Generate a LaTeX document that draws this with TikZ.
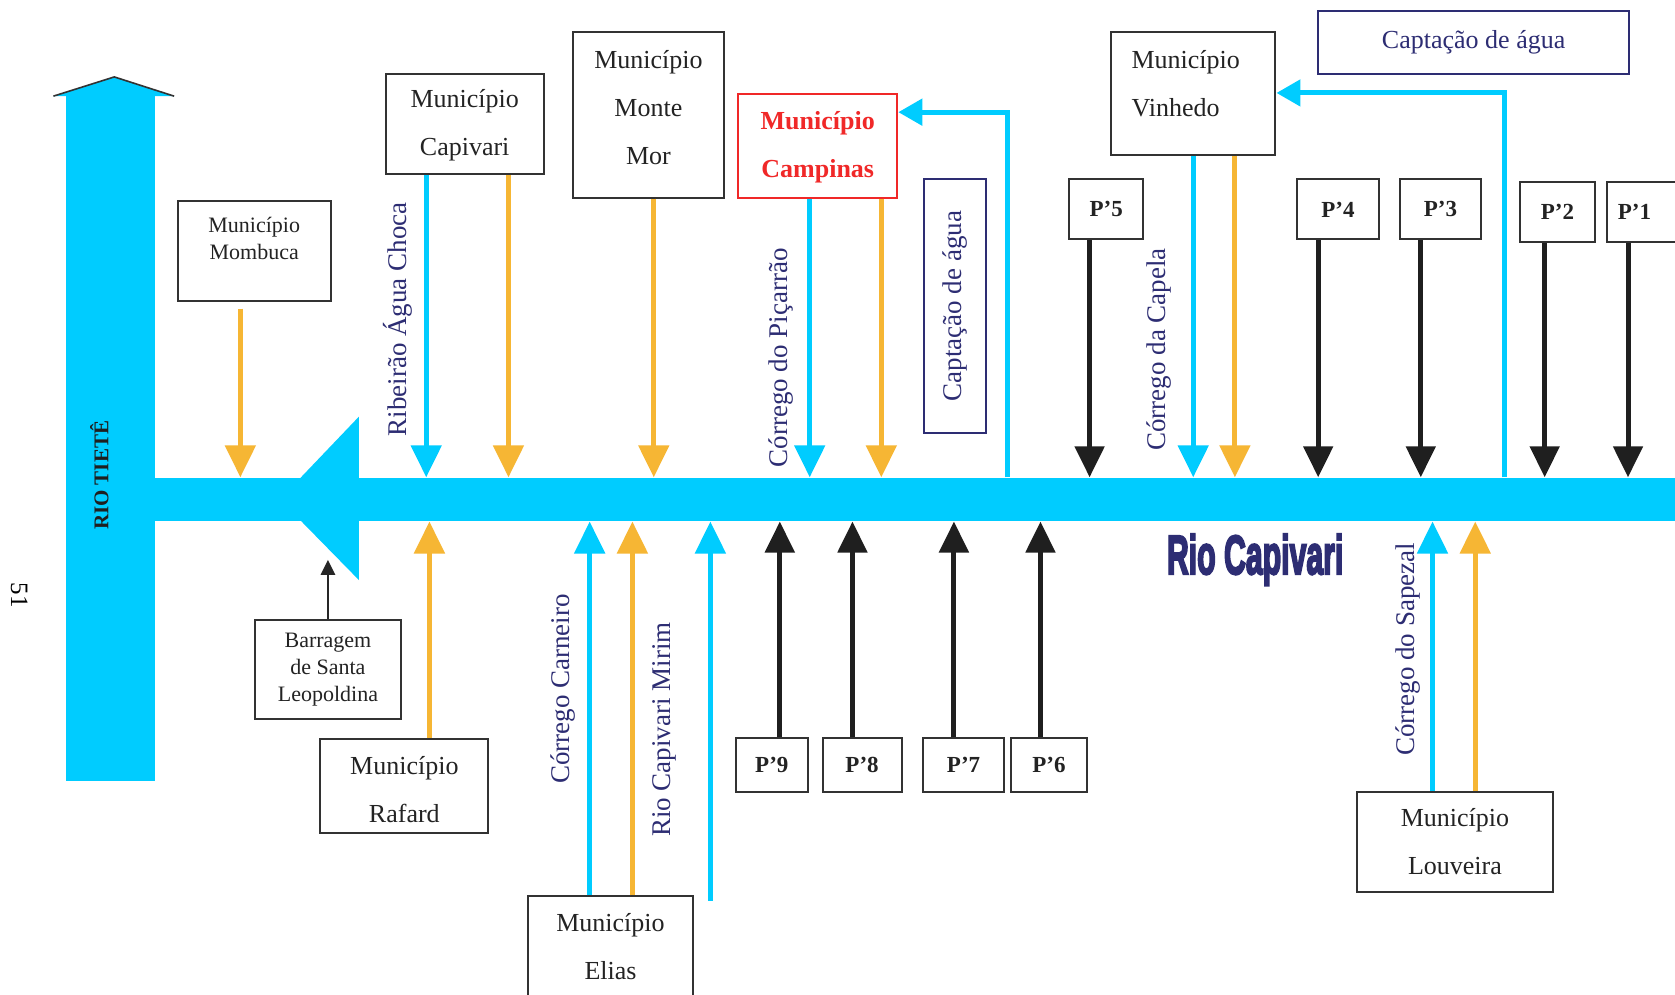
\documentclass[tikz,border=0pt]{standalone}
\usepackage{fontspec}
\setmainfont{Liberation Serif}
\newfontfamily\rcfont[BoldFeatures={FakeBold=4.5}]{Liberation Sans}
\usetikzlibrary{arrows.meta,fit}
\definecolor{riv}{RGB}{0,204,255}
\definecolor{ora}{RGB}{246,182,52}
\definecolor{navy}{RGB}{45,45,115}
\definecolor{redc}{RGB}{240,40,40}
\definecolor{boxc}{RGB}{50,50,50}
\definecolor{txtc}{RGB}{35,35,35}
\begin{document}
\begin{tikzpicture}[x=1.0682pt,y=-1.0682pt,
  box/.style={draw=boxc,line width=2pt,inner sep=0pt},
  nbox/.style={draw=navy,line width=2pt,inner sep=0pt},
  txt/.style={text=txtc,align=center,font=\fontsize{26}{48}\selectfont},
  stxt/.style={text=txtc,align=center,font=\fontsize{22}{27}\selectfont},
  ptxt/.style={text=txtc,font=\bfseries\fontsize{23}{26}\selectfont},
  lbl/.style={rotate=90,text=navy,font=\fontsize{27}{30}\selectfont},
  barr/.style={draw=riv,line width=5pt,-{Triangle[width=30pt,length=32pt]}},
  oarr/.style={draw=ora,line width=5pt,-{Triangle[width=30pt,length=32pt]}},
  karr/.style={draw=black!88,line width=5pt,-{Triangle[width=29pt,length=31pt]}},
  carr/.style={draw=riv,line width=5pt,-{Triangle[width=26pt,length=24pt]}}]
\useasboundingbox (0,0) rectangle (1568,931);
\fill[white] (0,0) rectangle (1568,931);

% Rio Tiete
\node[fill=riv,inner sep=0pt,fit={(62,90)(145,731)}] (tiete) {};
\fill[riv] (50,90) -- (107,72) -- (163,90) -- cycle;
\draw[black!80,line width=1.6pt,line join=round] (50,90) -- (107,72) -- (163,90);
\node[rotate=90,text=black!88,font=\bfseries\fontsize{21}{21}\selectfont] at (93,445) {RIO TIETÊ};
\node[rotate=-90,text=black,font=\fontsize{25}{25}\selectfont] at (18,557) {51};

% Rio Capivari band
\node[fill=riv,inner sep=0pt,fit={(145,447)(1580,488)}] (river) {};
\fill[riv] (336,390) -- (262,467.5) -- (336,543) -- cycle;
\node[text=navy,xscale=0.55,font=\rcfont\bfseries\fontsize{55}{55}\selectfont] at (1175,524) {Rio Capivari};

% top boxes
\node[box,fit={(167,188)(310,282)}] (momb) {};
\node[stxt] at (238,223) {Município\\Mombuca};
\node[box,fit={(361,69)(509,163)}] (capiv) {};
\node[txt] at (435,117) {Município\\Capivari};
\node[box,fit={(536,30)(678,185)}] (monte) {};
\node[txt] at (607,100.5) {Município\\Monte\\Mor};
\node[draw=redc,line width=2pt,inner sep=0pt,fit={(691,88)(840,185)}] (camp) {};
\node[txt,text=redc,font=\bfseries\fontsize{26}{48}\selectfont] at (765.5,137.5) {Município\\Campinas};
\node[nbox,fit={(865,168)(923,405)}] (capv) {};
\node[lbl] at (capv) {Captação de água};
\node[box,fit={(1040,30)(1194,145)}] (vinh) {};
\node[txt,align=left,anchor=west] at (1056,78) {Município\\Vinhedo};
\node[nbox,fit={(1234,10)(1525,69)}] (capt) {};
\node[text=navy,font=\fontsize{26}{30}\selectfont] at (capt) {Captação de água};

\node[box,fit={(1001,168)(1070,224)}] (p5) {};
\node[ptxt] at (p5) {P’5};
\node[box,fit={(1214,168)(1291,224)}] (p4) {};
\node[ptxt] at (p4) {P’4};
\node[box,fit={(1311,168)(1386,224)}] (p3) {};
\node[ptxt] at (p3) {P’3};
\node[box,fit={(1423,170)(1493,227)}] (p2) {};
\node[ptxt] at (p2) {P’2};
\node[box,fit={(1504,170)(1580,227)}] (p1) {};
\node[ptxt] at (1530,198.5) {P’1};

% bottom boxes
\node[box,fit={(239,580)(375,673)}] (barr) {};
\node[stxt] at (barr) {Barragem\\de Santa\\Leopoldina};
\node[box,fit={(300,692)(457,780)}] (rafa) {};
\node[txt] at (378.5,739.5) {Município\\Rafard};
\node[box,fit={(494,839)(649,945)}] (elias) {};
\node[txt] at (571.5,886.5) {Município\\Elias};
\node[box,fit={(689,691)(756,741)}] (p9) {};
\node[ptxt] at (p9) {P’9};
\node[box,fit={(770,691)(844,741)}] (p8) {};
\node[ptxt] at (p8) {P’8};
\node[box,fit={(864,691)(940,741)}] (p7) {};
\node[ptxt] at (p7) {P’7};
\node[box,fit={(946,691)(1018,741)}] (p6) {};
\node[ptxt] at (p6) {P’6};
\node[box,fit={(1270,741)(1454,835)}] (louv) {};
\node[txt] at (louv) {Município\\Louveira};

% labels
\node[lbl] at (372,299) {Ribeirão Água Choca};
\node[lbl] at (731,335) {Córrego do Piçarrão};
\node[lbl] at (1085,327) {Córrego da Capela};
\node[lbl] at (527,645) {Córrego Carneiro};
\node[lbl] at (622,683) {Rio Capivari Mirim};
\node[lbl] at (1318,608) {Córrego do Sapezal};

% downward arrows (top)
\draw[oarr] (momb.south -| 225,0) ++(0,6) -- (225,0 |- river.north);
\draw[barr] (capiv.south -| 399,0) -- (399,0 |- river.north);
\draw[oarr] (capiv.south -| 476,0) -- (476,0 |- river.north);
\draw[oarr] (monte.south -| 612,0) -- (612,0 |- river.north);
\draw[barr] (camp.south -| 758,0) -- (758,0 |- river.north);
\draw[oarr] (camp.south -| 825,0) -- (825,0 |- river.north);
\draw[barr] (vinh.south -| 1117,0) -- (1117,0 |- river.north);
\draw[oarr] (vinh.south -| 1156,0) -- (1156,0 |- river.north);
\draw[karr] (p5.south -| 1020,0) -- (1020,0 |- river.north);
\draw[karr] (p4.south -| 1234,0) -- (1234,0 |- river.north);
\draw[karr] (p3.south -| 1330,0) -- (1330,0 |- river.north);
\draw[karr] (p2.south -| 1446,0) -- (1446,0 |- river.north);
\draw[karr] (p1.south -| 1524,0) -- (1524,0 |- river.north);

% water intakes
\draw[carr] (943,0 |- river.north) -- (943,105) -- (camp.east |- 0,105);
\draw[carr] (1408,0 |- river.north) -- (1408,87) -- (vinh.east |- 0,87);

% upward arrows (bottom)
\draw[draw=black!85,line width=2.5pt,-{Triangle[width=14pt,length=15pt]}] (barr.north -| 307,0) -- (307,524);
\draw[oarr] (rafa.north -| 402,0) -- (402,0 |- river.south);
\draw[barr] (elias.north -| 552,0) -- (552,0 |- river.south);
\draw[oarr] (elias.north -| 592,0) -- (592,0 |- river.south);
\draw[barr] (665,843) -- (665,0 |- river.south);
\draw[karr] (p9.north -| 730,0) -- (730,0 |- river.south);
\draw[karr] (p8.north -| 798,0) -- (798,0 |- river.south);
\draw[karr] (p7.north -| 893,0) -- (893,0 |- river.south);
\draw[karr] (p6.north -| 974,0) -- (974,0 |- river.south);
\draw[barr] (louv.north -| 1341,0) -- (1341,0 |- river.south);
\draw[oarr] (louv.north -| 1381,0) -- (1381,0 |- river.south);
\end{tikzpicture}
\end{document}
